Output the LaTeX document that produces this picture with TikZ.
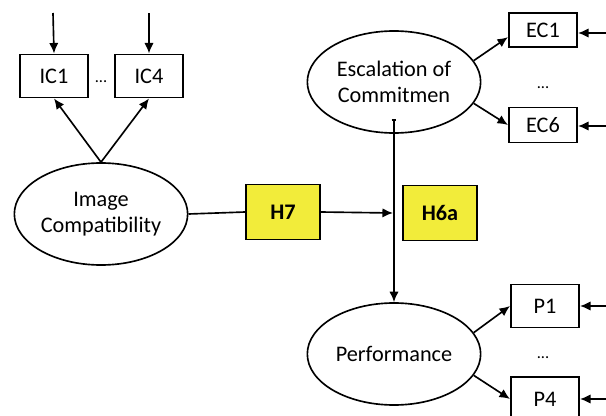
\documentclass[tikz,border=0pt]{standalone}
\usepackage{fontspec}
\setmainfont{Carlito}
\usetikzlibrary{shapes.geometric,calc,arrows.meta}

\definecolor{hypoyellow}{RGB}{242,236,58}

\tikzset{
    latent/.style={draw, ellipse, line width=1.4pt, minimum width=5.2cm,
        minimum height=3.06cm, inner sep=0pt, align=center},
    indicator/.style={draw, rectangle, line width=1.4pt, minimum width=2.05cm,
        minimum height=#1, inner sep=0pt},
    indicator/.default=1.3cm,
    hypo/.style={draw, fill=hypoyellow, line width=1.4pt, minimum width=2.22cm,
        minimum height=1.64cm, inner sep=0pt,
        font=\fontsize{19}{22}\selectfont\bfseries},
    link/.style={line width=1.4pt, -{Latex[length=9pt, width=8pt]}},
    dotsnode/.style={inner sep=0pt, font=\fontsize{14}{16}\selectfont},
}

\begin{document}
\begin{tikzpicture}[x=0.03cm, y=-0.03cm, font=\fontsize{19}{22}\selectfont]
    % 画布大小按像素 606 x 416
    \useasboundingbox (0, 0) rectangle (606, 416);

    % 潜变量
    \node[latent] (img)  at (101, 214) {Image\\Compatibility};
    \node[latent] (esc)  at (394, 82)  {Escalation of\\Commitmen};
    \node[latent] (perf) at (394, 354) {Performance};

    % 假设
    \node[hypo] (h7)  at (283, 212) {H7};
    \node[hypo] (h6a) at (440, 213) {H6a};

    % 指标
    \node[indicator] (ic1) at (54, 76)  {IC1};
    \node[indicator] (ic4) at (149, 76) {IC4};
    \node[dotsnode] (icdots) at (101, 82) {...};

    \node[indicator=1.02cm] (ec1) at (543, 30)  {EC1};
    \node[indicator=1.05cm] (ec6) at (543, 125) {EC6};
    \node[dotsnode] (ecdots) at (543, 88) {...};

    \node[indicator=1.29cm] (p1) at (545, 306) {P1};
    \node[indicator=1.32cm] (p4) at (545, 399) {P4};
    \node[dotsnode] (pdots) at (543, 358) {...};

    % 误差项的起点
    \coordinate (ic1in) at (53, 13);
    \coordinate (ic4in) at (149, 13);
    \coordinate (ec1in) at (606, 33);
    \coordinate (ec6in) at (606, 126);
    \coordinate (p1in)  at (606, 306);
    \coordinate (p4in)  at (606, 399);

    \draw[link] (ic1in) -- (ic1.north);
    \draw[link] (ic4in) -- (ic4.north);
    \draw[link] (ec1in) -- (ec1in -| ec1.east);
    \draw[link] (ec6in) -- (ec6in -| ec6.east);
    \draw[link] (p1in) -- (p1in -| p1.east);
    \draw[link] (p4in) -- (p4in -| p4.east);

    % 载荷
    \draw[link] (img.north) -- (ic1.south);
    \draw[link] (img.north) -- (ic4.south);
    \draw[link] (esc.15) -- ($(ec1.west)!0.4!(ec1.south west)$);
    \draw[link] (esc.-15) -- (ec6.west);
    \draw[link] (perf.15) -- (p1.west);
    \draw[link] (perf.-15) -- (p4.west);

    % 路径
    \coordinate (h7end) at (393, 213);
    \coordinate (escout) at (394, 119);
    \draw[line width=1.4pt] (img.east) -- (h7.west);
    \draw[link] (h7.east) -- (h7end);
    \draw[link, {Bar[width=4pt]}-{Latex[length=9pt, width=8pt]}] (escout) -- (perf.north);
\end{tikzpicture}
\end{document}
